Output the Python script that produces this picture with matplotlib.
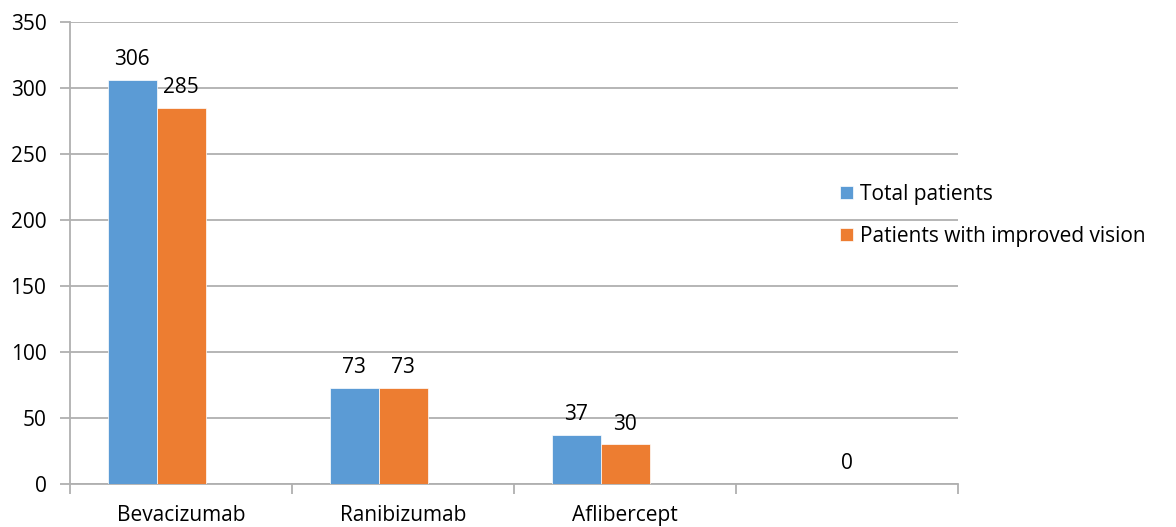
import numpy as np
import matplotlib.pyplot as plt

plt.rcParams['font.family'] = ['Open Sans', 'DejaVu Sans']

categories = ["Bevacizumab", "Ranibizumab", "Aflibercept", ""]
total_patients = [306, 73, 37, np.nan]
improved_vision = [285, 73, 30, 0]

blue = "#5b9bd5"
orange = "#ed7d31"
grid_col = "#b0b0b0"
fs = 15

fig = plt.figure(figsize=(11.76, 5.27), dpi=100)
ax = fig.add_axes([70 / 1176, 1 - 484 / 527, 888 / 1176, 462 / 527])

x = np.arange(len(categories))
w = 49 / 222  # three series slots per category, third one empty
ax.bar(x - w, total_patients, width=w, color=blue, edgecolor="white", linewidth=0.5, label="Total patients", zorder=3)
ax.bar(x, improved_vision, width=w, color=orange, edgecolor="white", linewidth=0.5, label="Patients with improved vision", zorder=3)

for xi, v in zip(x - w, total_patients):
    if not np.isnan(v):
        ax.annotate(f"{v:g}", (xi, v), xytext=(0, 7), textcoords="offset points",
                    ha="center", va="bottom", fontsize=fs)
for xi, v in zip(x, improved_vision):
    ax.annotate(f"{v:g}", (xi, v), xytext=(0, 7), textcoords="offset points",
                ha="center", va="bottom", fontsize=fs)

ax.set_xlim(-0.5, len(categories) - 0.5)
ax.set_ylim(0, 350)
ax.set_yticks(np.arange(0, 351, 50))
ax.yaxis.grid(True, color=grid_col, linewidth=1.3, zorder=0)
ax.set_axisbelow(True)

# category labels centred, tick marks on boundaries
ax.set_xticks(x)
ax.set_xticklabels(categories, fontsize=fs)
ax.set_xticks(np.arange(-0.5, len(categories)), minor=True)
ax.tick_params(axis="x", which="major", length=0, pad=15)
ax.tick_params(axis="x", which="minor", length=7, color=grid_col, width=1.3)
ax.tick_params(axis="y", length=7, color=grid_col, width=1.3, labelsize=fs, pad=10)

for s in ["top", "right"]:
    ax.spines[s].set_visible(False)
ax.spines["left"].set_color(grid_col)
ax.spines["bottom"].set_color(grid_col)
ax.spines["left"].set_linewidth(1.3)
ax.spines["bottom"].set_linewidth(1.3)

fig.legend(loc="center left", bbox_to_anchor=(840 / 1176, 1 - 215.5 / 527),
           frameon=False, borderpad=0, borderaxespad=0, fontsize=fs,
           handlelength=0.6, handleheight=0.6, handletextpad=0.35,
           labelspacing=1.0)

fig.savefig("out.png", dpi=100)
